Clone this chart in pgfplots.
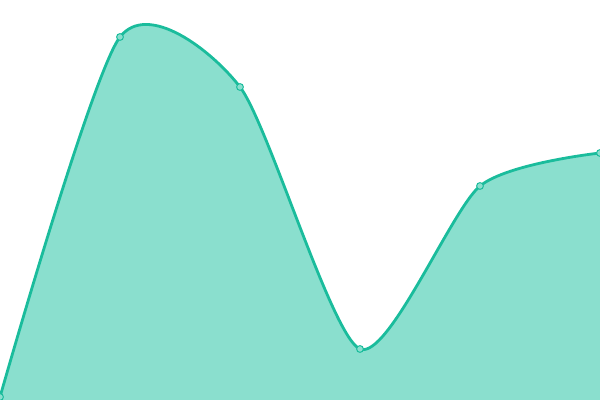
\documentclass[border=0pt]{standalone}
\usepackage{pgfplots}
\pgfplotsset{compat=1.18}
\definecolor{linegreen}{HTML}{1ABC9C}
\definecolor{fillgreen}{HTML}{8ADFCE}
\begin{document}
\begin{tikzpicture}
  \begin{axis}[
    width=300pt, height=200pt, scale only axis,
    xmin=0, xmax=600, ymin=0, ymax=400,
    axis lines=none, ticks=none,
    clip marker paths=true,
  ]
    % area under the curve
    \addplot[fill=fillgreen, draw=none, smooth, tension=0.42]
      coordinates {(0,3) (120,363) (240,313) (360,51) (480,214) (600,247)}
      \closedcycle;
    % outline with point markers
    \addplot[linegreen, line width=1.4pt, smooth, tension=0.42,
      mark=*, mark size=1.7pt,
      mark options={fill=fillgreen, draw=linegreen, line width=0.5pt}]
      coordinates {(0,3) (120,363) (240,313) (360,51) (480,214) (600,247)};
  \end{axis}
\end{tikzpicture}
\end{document}
